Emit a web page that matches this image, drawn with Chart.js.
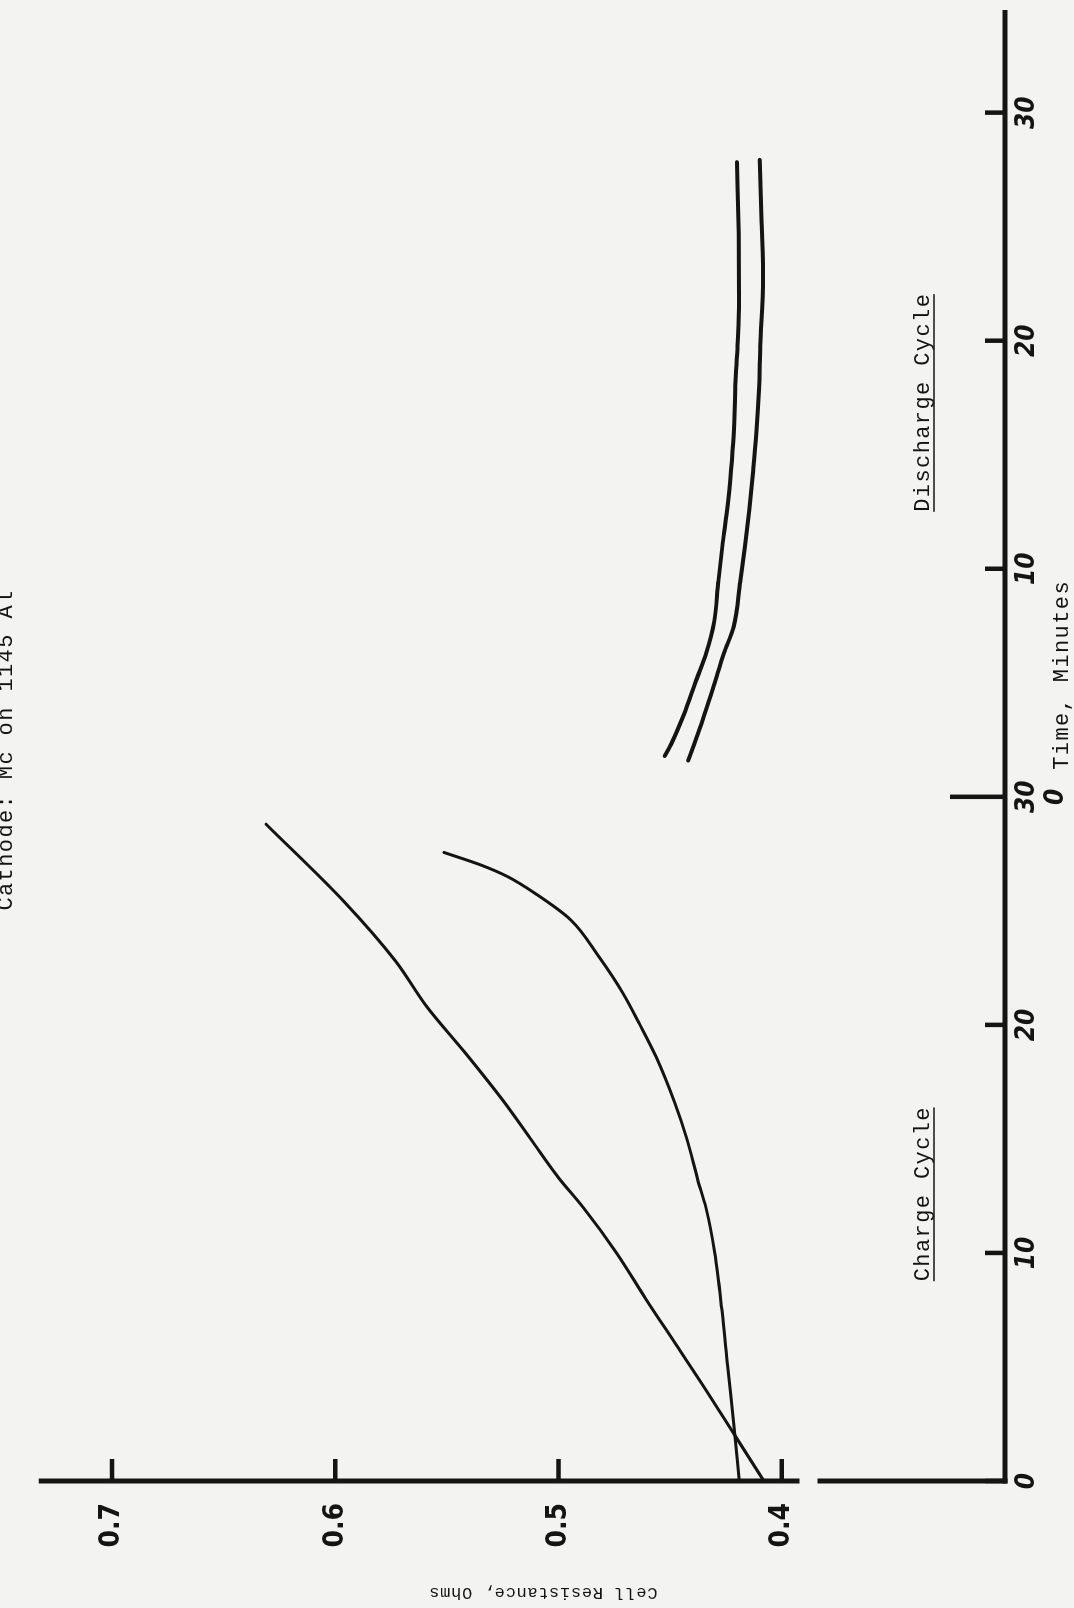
<!DOCTYPE html>
<html>
<head>
<meta charset="utf-8">
<script src="https://cdn.jsdelivr.net/npm/chart.js@4.4.1/dist/chart.umd.min.js"></script>
<style>
  html, body { margin:0; padding:0; width:1074px; height:1608px; overflow:hidden; background:#f3f3f1; }
  /* the chart is drawn in landscape and the sheet is turned a quarter turn counter-clockwise */
  #sheet { position:absolute; left:0; top:0; width:1608px; height:1074px;
           transform-origin:0 0; transform:translate(0,1608px) rotate(-90deg); }
  canvas { display:block; }
</style>
</head>
<body>
<div id="sheet"><canvas id="c" width="1608" height="1074"></canvas></div>
<script>
// ---------------- texts ----------------
const chartTitle   = 'Cathode: Mc on 1145 Al';
const xAxisTitle   = 'Time, Minutes';
const yAxisTitle   = 'Cell Resistance, Ohms';
const chargeLabel  = 'Charge Cycle';
const dischargeLabel = 'Discharge Cycle';

// ---------------- axes ----------------
const timeTicks      = [0, 10, 20, 30, 40, 50, 60];
const timeTickLabels = ['0', '10', '20', ['30', '0'], '10', '20', '30'];
const resTicks       = [0.4, 0.5, 0.6, 0.7];
const resTickLabels  = ['0.4', '0.5', '0.6', '0.7'];
const timeMin = 0, timeMax = 64.5;
const resMin = 0.3, resMax = 0.7328;
const axisBreak = [0.384, 0.392];      // gap drawn in the resistance axis
const dischargeOffset = 30;            // discharge cycle starts at the 30-minute mark

// ---------------- charge cycle (minutes, ohms) ----------------
const chargeTimeA = [0, 2, 4, 6, 8, 10, 12, 13.3, 15, 16.7, 18.8, 20.8, 22.8, 25.4, 28.8];
const chargeResA  = [0.408, 0.421, 0.434, 0.4475, 0.461, 0.474, 0.489, 0.500, 0.5125, 0.525, 0.542, 0.559, 0.573, 0.596, 0.631];

const chargeTimeB = [0, 2.5, 5, 7.5, 10, 12, 13.2, 15, 16.6, 18.6, 20, 21.4, 23, 24.6, 25.7, 26.5, 27.0, 27.56];
const chargeResB  = [0.419, 0.4215, 0.4242, 0.4268, 0.430, 0.434, 0.4376, 0.4425, 0.448, 0.4563, 0.4635, 0.4712, 0.482, 0.4945, 0.5095, 0.5228, 0.5345, 0.5513];

// ---------------- discharge cycle (minutes into discharge, ohms) ----------------
const dischargeTimeC = [1.79, 2.38, 3.55, 5.12, 6.29, 7.66, 9.43, 10.99, 12.36, 14.32, 15.89, 18.04, 19.8, 21.76, 24.7, 27.83];
const dischargeResC  = [0.4524, 0.4492, 0.4441, 0.4383, 0.4339, 0.4303, 0.4284, 0.4266, 0.4248, 0.4227, 0.4215, 0.4208, 0.4198, 0.4191, 0.4193, 0.4201];

const dischargeTimeD = [1.59, 2.18, 3.36, 4.92, 6.29, 7.47, 9.43, 10.99, 12.56, 14.32, 15.89, 17.84, 19.8, 22.74, 25.67, 27.93];
const dischargeResD  = [0.4419, 0.4397, 0.4354, 0.4303, 0.4259, 0.4215, 0.4186, 0.4165, 0.4146, 0.4128, 0.4114, 0.4102, 0.4096, 0.4084, 0.4092, 0.4099];

// ---------------- build ----------------
const INK = '#141414';
const pts = (ts, rs, off) => ts.map((t, i) => ({ x: t + (off || 0), y: rs[i] }));
const curve = (data, w) => ({ data, showLine: true, borderColor: INK, borderWidth: w,
  pointRadius: 0, fill: false, cubicInterpolationMode: 'monotone', borderCapStyle: 'round', borderJoinStyle: 'round' });

const monoFont = '"Liberation Mono", "DejaVu Sans Mono", monospace';
const numFont  = '"DejaVu Sans Condensed", "DejaVu Sans", sans-serif';

const inkPlugin = {
  id: 'ink',
  beforeDatasetsDraw(chart) {
    const { ctx, chartArea: a } = chart;
    const xs = chart.scales.x, ys = chart.scales.y;
    const x0 = xs.getPixelForValue(timeMin);
    const yb = ys.getPixelForValue(resMin);
    ctx.save();
    ctx.strokeStyle = INK; ctx.fillStyle = INK; ctx.lineCap = 'butt';
    // time axis
    ctx.lineWidth = 5;
    ctx.beginPath(); ctx.moveTo(x0 - 2.5, yb); ctx.lineTo(a.right, yb); ctx.stroke();
    // resistance axis with break
    const gLow = ys.getPixelForValue(axisBreak[0]), gHigh = ys.getPixelForValue(axisBreak[1]);
    ctx.beginPath();
    ctx.moveTo(x0, yb + 2.5); ctx.lineTo(x0, gLow);
    ctx.moveTo(x0, gHigh); ctx.lineTo(x0, a.top);
    ctx.stroke();
    // inward ticks
    ctx.lineWidth = 4.5;
    timeTicks.forEach(v => {
      const px = xs.getPixelForValue(v);
      const len = v === dischargeOffset ? 55 : 20;
      ctx.beginPath(); ctx.moveTo(px, yb); ctx.lineTo(px, yb - len); ctx.stroke();
    });
    resTicks.forEach(v => {
      const py = ys.getPixelForValue(v);
      ctx.beginPath(); ctx.moveTo(x0, py); ctx.lineTo(x0 + 22, py); ctx.stroke();
    });

    // typewritten texts
    const setSpacing = s => { if ('letterSpacing' in ctx) ctx.letterSpacing = s; };
    ctx.textBaseline = 'alphabetic';

    // cycle labels (underlined)
    ctx.font = '22px ' + monoFont; setSpacing('1.4px');
    ctx.textAlign = 'left';
    [[chargeLabel, 12.6], [dischargeLabel, 47.3]].forEach(([txt, t]) => {
      const w = ctx.measureText(txt).width;
      const cx = xs.getPixelForValue(t);
      const base = yb - 76;
      ctx.fillText(txt, cx - w / 2, base);
      ctx.lineWidth = 1.6;
      ctx.beginPath(); ctx.moveTo(cx - w / 2, base + 5); ctx.lineTo(cx + w / 2 - 1.4, base + 5); ctx.stroke();
    });

    // x axis title, right after the "0" under the 30 mark
    ctx.fillText(xAxisTitle, xs.getPixelForValue(dischargeOffset) + 27, 1068);

    // chart title (at the very top edge, partly cut)
    ctx.textAlign = 'center';
    ctx.fillText(chartTitle, 858, 12);

    // y axis title, rotated
    ctx.font = '17px ' + monoFont; setSpacing('0.7px');
    ctx.save();
    ctx.translate(20, 543);
    ctx.rotate(-Math.PI / 2);
    ctx.textAlign = 'center';
    ctx.fillText(yAxisTitle, 0, 0);
    ctx.restore();

    ctx.restore();
  }
};

new Chart(document.getElementById('c'), {
  type: 'scatter',
  data: {
    datasets: [
      curve(pts(chargeTimeA, chargeResA), 3),
      curve(pts(chargeTimeB, chargeResB), 3),
      curve(pts(dischargeTimeC, dischargeResC, dischargeOffset), 4),
      curve(pts(dischargeTimeD, dischargeResD, dischargeOffset), 4)
    ]
  },
  options: {
    responsive: false,
    animation: false,
    devicePixelRatio: 1,
    layout: { padding: { top: 14, right: 10, left: 0, bottom: 0 } },
    plugins: { legend: { display: false }, tooltip: { enabled: false }, title: { display: false } },
    scales: {
      x: {
        type: 'linear', position: 'bottom', min: timeMin, max: timeMax,
        afterBuildTicks: s => { s.ticks = timeTicks.map(v => ({ value: v })); },
        afterFit: s => { s.height = 69; },
        grid: { display: false, drawTicks: false },
        border: { display: false },
        ticks: {
          autoSkip: false, maxRotation: 0, minRotation: 0, padding: 8, color: INK,
          font: { family: numFont, size: 26, style: 'italic', weight: 'bold', lineHeight: 1.1 },
          callback: v => timeTickLabels[timeTicks.indexOf(v)]
        }
      },
      y: {
        type: 'linear', position: 'left', min: resMin, max: resMax,
        afterBuildTicks: s => { s.ticks = resTicks.map(v => ({ value: v })); },
        afterFit: s => { s.width = 127; },
        grid: { display: false, drawTicks: false },
        border: { display: false },
        ticks: {
          autoSkip: false, padding: 22, color: INK,
          font: { family: numFont, size: 28, weight: 'bold' },
          callback: v => resTickLabels[resTicks.findIndex(r => Math.abs(r - v) < 1e-9)]
        }
      }
    }
  },
  plugins: [inkPlugin]
});
</script>
</body>
</html>
